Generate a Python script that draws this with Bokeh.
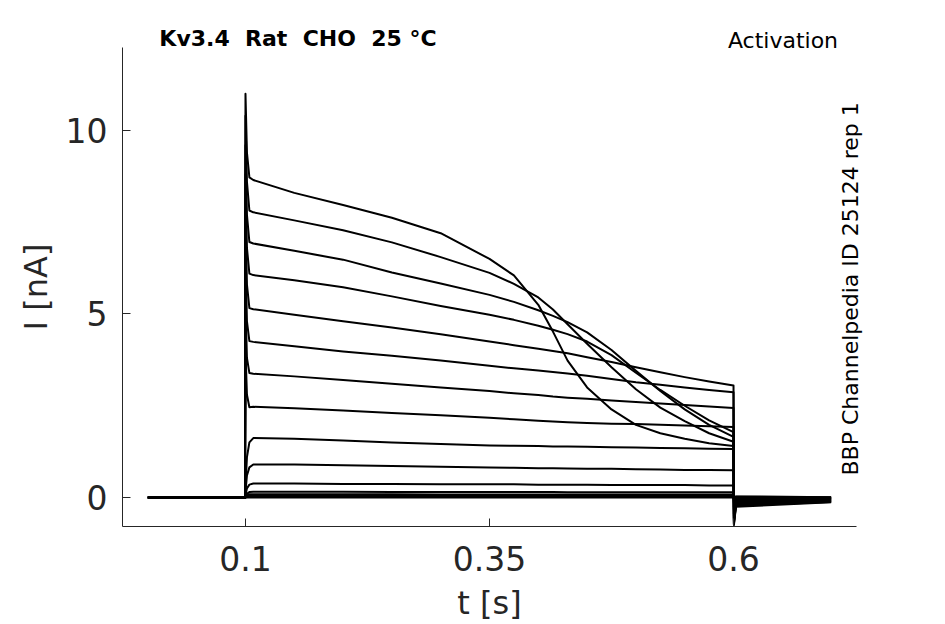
import math
from bokeh.plotting import figure
from bokeh.models import Range1d, FixedTicker, LinearAxis
from bokeh.embed import file_html
from bokeh.resources import INLINE

# ---- data ----
t_sweep = [0.0, 0.0995, 0.1, 0.1015, 0.104, 0.108, 0.15, 0.2, 0.25, 0.3, 0.35, 0.375,
           0.4, 0.415, 0.43, 0.45, 0.475, 0.5, 0.525, 0.55, 0.575, 0.6, 0.6004, 0.6025, 0.7]

sweep_A = [0, 0, 11.0, 9.4, 8.72, 8.65, 8.3, 7.97, 7.62, 7.2, 6.5, 6.05, 5.25, 4.52, 3.73, 3.0, 2.4, 1.98, 1.75, 1.6, 1.48, 1.4, -0.75, -0.25, -0.13]
sweep_B = [0, 0, 10.4, 8.6, 7.82, 7.77, 7.55, 7.28, 6.95, 6.55, 6.12, 5.82, 5.45, 5.12, 4.72, 4.19, 3.55, 2.95, 2.45, 2.08, 1.75, 1.52, -0.72, -0.22, -0.12]
sweep_C = [0, 0, 9.6, 7.7, 6.96, 6.92, 6.72, 6.48, 6.13, 5.83, 5.52, 5.33, 5.1, 4.95, 4.78, 4.5, 4.02, 3.45, 2.9, 2.4, 1.98, 1.65, -0.7, -0.2, -0.11]
sweep_D = [0, 0, 8.8, 6.8, 6.1, 6.06, 5.92, 5.73, 5.48, 5.22, 4.98, 4.84, 4.68, 4.57, 4.45, 4.25, 3.88, 3.4, 2.93, 2.5, 2.1, 1.78, -0.65, -0.18, -0.1]
sweep_E = [0, 0, 7.8, 5.8, 5.16, 5.13, 4.98, 4.8, 4.63, 4.45, 4.25, 4.15, 4.05, 3.99, 3.93, 3.82, 3.69, 3.55, 3.41, 3.28, 3.16, 3.05, -0.6, -0.16, -0.09]
sweep_F = [0, 0, 6.6, 4.8, 4.26, 4.24, 4.12, 3.98, 3.86, 3.73, 3.59, 3.52, 3.46, 3.42, 3.38, 3.32, 3.23, 3.14, 3.07, 3.0, 2.93, 2.87, -0.55, -0.14, -0.08]
sweep_G = [0, 0, 5.3, 3.8, 3.39, 3.37, 3.3, 3.2, 3.1, 3.0, 2.9, 2.84, 2.79, 2.75, 2.72, 2.69, 2.64, 2.6, 2.56, 2.52, 2.48, 2.44, -0.5, -0.12, -0.07]
sweep_H = [0, 0, 4.0, 2.8, 2.46, 2.47, 2.43, 2.37, 2.3, 2.24, 2.17, 2.13, 2.09, 2.07, 2.05, 2.03, 2.01, 2.0, 1.98, 1.96, 1.94, 1.92, -0.45, -0.1, -0.06]
sweep_I = [0, 0, 0.3, 1.1, 1.5, 1.62, 1.6, 1.55, 1.5, 1.46, 1.42, 1.41, 1.4, 1.39, 1.39, 1.38, 1.37, 1.36, 1.35, 1.34, 1.33, 1.32, -0.35, -0.08, -0.05]
sweep_J = [0, 0, 0.15, 0.6, 0.82, 0.9, 0.9, 0.88, 0.86, 0.84, 0.82, 0.81, 0.8, 0.8, 0.79, 0.78, 0.78, 0.77, 0.76, 0.75, 0.75, 0.74, -0.25, -0.06, -0.04]
sweep_K = [0, 0, 0.05, 0.25, 0.35, 0.38, 0.38, 0.37, 0.37, 0.36, 0.36, 0.36, 0.35, 0.35, 0.35, 0.35, 0.34, 0.34, 0.34, 0.34, 0.33, 0.33, -0.15, -0.04, -0.03]
sweep_L = [0, 0, 0.02, 0.1, 0.15, 0.16, 0.16, 0.16, 0.15, 0.15, 0.15, 0.15, 0.15, 0.15, 0.14, 0.14, 0.14, 0.14, 0.14, 0.14, 0.14, 0.14, -0.1, -0.02, -0.02]
sweep_M = [0, 0, 0.01, 0.06, 0.09, 0.09, 0.09, 0.09, 0.09, 0.08, 0.08, 0.08, 0.08, 0.08, 0.08, 0.08, 0.08, 0.08, 0.08, 0.08, 0.08, 0.08, -0.06, 0.0, -0.01]
sweep_N = [0, 0, 0.0, 0.03, 0.05, 0.05, 0.05, 0.05, 0.05, 0.05, 0.05, 0.05, 0.04, 0.04, 0.04, 0.04, 0.04, 0.04, 0.04, 0.04, 0.04, 0.04, -0.04, 0.01, 0.0]
sweep_O = [0, 0, 0.0, 0.01, 0.02, 0.02, 0.02, 0.02, 0.02, 0.02, 0.02, 0.02, 0.02, 0.02, 0.02, 0.02, 0.02, 0.02, 0.02, 0.02, 0.02, 0.02, -0.02, 0.02, 0.0]
sweep_P = [0, 0, 0.0, 0.0, 0.0, 0.0, 0.0, 0.0, 0.0, 0.0, 0.0, 0.0, 0.0, 0.0, 0.0, 0.0, 0.0, 0.0, 0.0, 0.0, 0.0, 0.0, 0.0, 0.03, 0.01]

x_ticks = [0.1, 0.35, 0.6]
x_tick_labels = ["0.1", "0.35", "0.6"]
y_ticks = [0, 5, 10]
y_tick_labels = ["0", "5", "10"]

NBSP = "\u00a0"
title_text = "Kv3.4" + NBSP + " Rat" + NBSP + " CHO" + NBSP + " 25 \u00b0C"
protocol_text = "Activation"
source_text = "BBP Channelpedia ID 25124 rep 1"
x_label = "t [s]"
y_label = "I [nA]"

# ---- layout constants (positions of the annotation texts) ----
TITLE_X = 0.1538
PROTOCOL_X = 0.6507
SOURCE_Y = 0.6

# ---- figure ----
p = figure(width=945, height=624,
           x_range=Range1d(-0.026, 0.726), y_range=Range1d(-0.79, 12.26),
           output_backend="svg", toolbar_location=None,
           min_border_left=122, min_border_right=89,
           min_border_top=47, min_border_bottom=98)
p.grid.visible = False
p.outline_line_color = None
p.background_fill_color = "white"
p.border_fill_color = "white"

TXT = "#262626"
for ax in (p.xaxis[0], p.yaxis[0]):
    ax.axis_line_color = TXT
    ax.axis_line_width = 1
    ax.major_tick_in = 8
    ax.major_tick_out = 0
    ax.major_tick_line_color = TXT
    ax.major_tick_line_width = 1
    ax.minor_tick_line_color = None
    ax.major_label_text_font = "DejaVu Sans"
    ax.major_label_text_font_size = "33px"
    ax.major_label_text_color = TXT
    ax.axis_label_text_font = "DejaVu Sans"
    ax.axis_label_text_font_size = "32px"
    ax.axis_label_text_font_style = "normal"
    ax.axis_label_text_color = TXT

p.xaxis.ticker = FixedTicker(ticks=x_ticks)
p.xaxis.major_label_overrides = dict(zip(x_ticks, x_tick_labels))
p.yaxis.ticker = FixedTicker(ticks=y_ticks)
p.yaxis.major_label_overrides = dict(zip(y_ticks, y_tick_labels))
p.xaxis.major_label_standoff = 19
p.yaxis.major_label_standoff = 15
p.xaxis.axis_label = x_label
p.yaxis.axis_label = y_label
p.xaxis.axis_label_standoff = 10
p.yaxis.axis_label_standoff = 8


def text_axis(ticks, labels, size, style, standoff, orientation="horizontal"):
    ax = LinearAxis(ticker=FixedTicker(ticks=ticks),
                    major_label_overrides=dict(zip(ticks, labels)))
    ax.axis_line_color = None
    ax.major_tick_line_color = None
    ax.minor_tick_line_color = None
    ax.major_tick_in = 0
    ax.major_tick_out = 0
    ax.major_label_text_font = "DejaVu Sans"
    ax.major_label_text_font_size = size
    ax.major_label_text_font_style = style
    ax.major_label_text_color = "black"
    ax.major_label_standoff = standoff
    ax.major_label_orientation = orientation
    return ax


# top-left (bold) and top-right (normal) annotation texts
p.add_layout(text_axis([PROTOCOL_X], [protocol_text], "22px", "normal", -5), "above")
p.add_layout(text_axis([TITLE_X], [title_text], "22px", "bold", -26), "above")
# rotated source text on the right
p.add_layout(text_axis([SOURCE_Y], [source_text], "22px", "normal", -6, math.pi / 2), "right")

sweeps = [sweep_A, sweep_B, sweep_C, sweep_D, sweep_E, sweep_F, sweep_G, sweep_H,
          sweep_I, sweep_J, sweep_K, sweep_L, sweep_M, sweep_N, sweep_O, sweep_P]
for s in sweeps:
    p.line(t_sweep, s, line_color="black", line_width=2.0, line_join="round")

open("out.html", "w").write(file_html(p, INLINE))
